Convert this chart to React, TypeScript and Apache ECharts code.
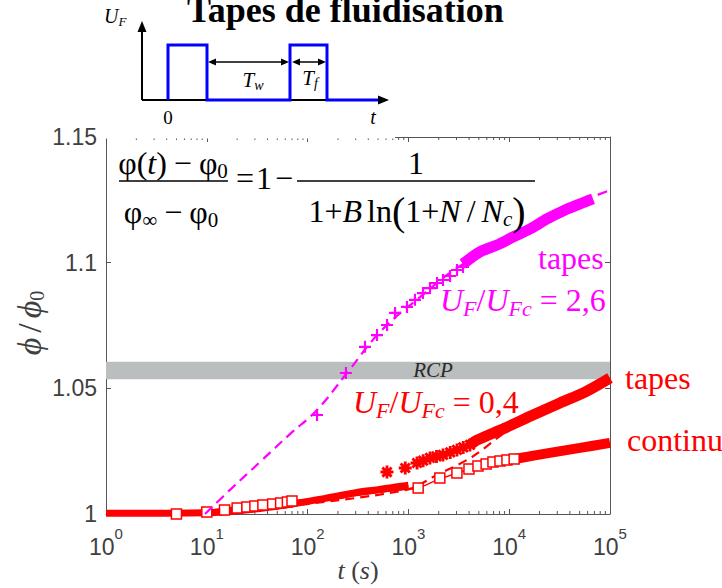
import React, { useEffect, useRef } from 'react';
import * as echarts from 'echarts';

const SERIF = "'Liberation Serif', 'Times New Roman', serif";
const SANS = "'Liberation Sans', Arial, Helvetica, sans-serif";
const MAGENTA = '#ff00ff';
const RED = '#ff0000';
const AXIS = '#555555';
const LABEL = '#404040';

// ---- axes / ticks ----
const xMin = 1;
const xMax = 100000;
const yMin = 1;
const yMax = 1.15;
const yInterval = 0.05;
const minorTickValues: number[] = [];
for (let k = 0; k < 5; k++) for (let m = 2; m <= 9; m++) minorTickValues.push(m * Math.pow(10, k));
const rcpBand = [1.0536, 1.0606];

// ---- U_F/U_Fc = 2,6 (tapes, magenta) ----
const magFitT = [9.6, 17, 33.7, 66.9, 124, 246, 523, 1303, 3250, 10900, 34200, 100000];
const magFitV = [1.0, 1.0096, 1.0207, 1.0318, 1.0414, 1.0561, 1.0724, 1.0863, 1.0987, 1.1102, 1.121, 1.1289];
const magMarkT = [124, 240, 371, 488, 614, 737, 968, 1162, 1396, 1638, 1922, 2204, 2588, 3035, 3483];
const magMarkV = [1.0394, 1.0561, 1.0665, 1.0712, 1.0752, 1.08, 1.0824, 1.0852, 1.0879, 1.0899, 1.0919, 1.0931, 1.0947, 1.0971, 1.0983];
const magBandT = [3483, 5130, 7570, 10900, 16080, 23700, 34200, 50400, 67800];
const magBandV = [1.0995, 1.1043, 1.107, 1.1102, 1.1134, 1.1174, 1.1206, 1.1234, 1.1254];

// ---- U_F/U_Fc = 0,4 continu (red squares) ----
const contFitT = [1, 10, 30, 100, 300, 1000, 1250, 2050, 5000, 10000, 100000];
const contFitV = [1.0, 1.0008, 1.0032, 1.0052, 1.0078, 1.0098, 1.0103, 1.014, 1.0188, 1.0215, 1.0283];
const contEarlyT = [1, 3, 5, 10, 20, 40, 70, 100, 150, 200, 300, 500, 700, 1000];
const contEarlyV = [1.0003, 1.0003, 1.0004, 1.0008, 1.0022, 1.0036, 1.0046, 1.0052, 1.0062, 1.0068, 1.008, 1.0092, 1.01, 1.0108];
const contSqT = [5, 10, 15, 20, 25, 30, 36, 45, 54, 63, 70, 1250, 2050, 3030, 3990, 4900, 5900, 6900, 8100, 9500, 11200];
const contSqV = [1.0, 1.0008, 1.0016, 1.0024, 1.0028, 1.0032, 1.0036, 1.004, 1.0044, 1.0048, 1.0052, 1.0103, 1.0143, 1.0163, 1.0179, 1.0191, 1.0199, 1.0207, 1.0211, 1.0215, 1.0219];
const contBandT = [11200, 12900, 25300, 50400, 100000];
const contBandV = [1.0219, 1.0223, 1.0243, 1.0263, 1.0283];

// ---- U_F/U_Fc = 0,4 tapes (red asterisks) ----
const tapFitT = [1, 10, 100, 1000, 1754, 4276, 10000, 30000, 100000];
const tapFitV = [1.0, 1.0004, 1.004, 1.0098, 1.0147, 1.0227, 1.0335, 1.043, 1.0535];
const tapEarlyT = [1, 10, 30, 70, 100, 150, 200, 300, 500, 700, 1000];
const tapEarlyV = [1.0003, 1.0005, 1.002, 1.004, 1.005, 1.0062, 1.0072, 1.0085, 1.0097, 1.0106, 1.0114];
const tapStarT = [613, 930, 1218, 1400, 1638, 1900, 2204, 2600, 3035, 3500, 4083];
const tapStarV = [1.0167, 1.0183, 1.0203, 1.0212, 1.0223, 1.0229, 1.0235, 1.0245, 1.0255, 1.0265, 1.0275];
const tapBandT = [4083, 4795, 9080, 17200, 31900, 56500, 100000];
const tapBandV = [1.0275, 1.0294, 1.0342, 1.0394, 1.0442, 1.0485, 1.0541];

const zip = (t: number[], v: number[]) => t.map((x, i) => [x, v[i]]);

// ---- text layout helpers ----
let mctx: CanvasRenderingContext2D | null = null;
type Seg = { t: string; s?: number; it?: boolean; b?: boolean; dy?: number; gap?: number; f?: string };
function segW(sg: Seg, size: number) {
  if (!mctx) mctx = document.createElement('canvas').getContext('2d');
  const s = sg.s || size;
  mctx!.font = `${sg.it ? 'italic ' : ''}${sg.b ? 'bold ' : ''}${s}px ${sg.f || SERIF}`;
  return mctx!.measureText(sg.t).width;
}
function segs(list: Seg[], x: number, y: number, size: number, color: string, align: 'left' | 'center' | 'right' = 'left') {
  const ws = list.map((sg) => segW(sg, size));
  const total = ws.reduce((a, w, i) => a + w + (i < list.length - 1 ? list[i].gap || 0 : 0), 0);
  let cx = align === 'left' ? x : align === 'center' ? x - total / 2 : x - total;
  return list.map((sg, i) => {
    const el = {
      type: 'text',
      x: cx,
      y: y + (sg.dy || 0),
      z: 100,
      silent: true,
      style: {
        text: sg.t,
        fontSize: sg.s || size,
        fontFamily: sg.f || SERIF,
        fontStyle: sg.it ? 'italic' : 'normal',
        fontWeight: sg.b ? 'bold' : 'normal',
        fill: color,
        align: 'left',
        verticalAlign: 'middle',
      },
    };
    cx += ws[i] + (sg.gap || 0);
    return el;
  });
}
const line = (x1: number, y1: number, x2: number, y2: number, stroke: string, w: number) => ({
  type: 'line', z: 101, silent: true, shape: { x1, y1, x2, y2 }, style: { stroke, lineWidth: w },
});
const tri = (pts: number[][], fill = '#000') => ({ type: 'polygon', z: 101, silent: true, shape: { points: pts }, style: { fill } });

function asteriskPath() {
  const c = 5, L = 5, W = 1.1;
  let d = '';
  for (const ang of [0, 45, 90, 135]) {
    const a = (ang * Math.PI) / 180, ca = Math.cos(a), sa = Math.sin(a);
    const pts = [[-L, -W], [L, -W], [L, W], [-L, W]].map(([u, w]) => [c + u * ca - w * sa, c + u * sa + w * ca]);
    d += 'M' + pts.map((p) => p[0].toFixed(2) + ',' + p[1].toFixed(2)).join('L') + 'Z';
  }
  return 'path://' + d;
}
const PLUS = 'path://M4.1,0H5.9V4.1H10V5.9H5.9V10H4.1V5.9H0V4.1H4.1Z';

function buildGraphics() {
  const g: any[] = [];
  // inset schematic (white background)
  g.push({ type: 'rect', z: 99, silent: true, shape: { x: 99, y: 0, width: 296, height: 138.5 }, style: { fill: '#fff' } });
  g.push(...segs([{ t: 'Tapes de fluidisation', b: true }], 187, 10, 36, '#000'));
  // axes of schematic
  g.push(line(142, 100, 142, 30, '#000', 2));
  g.push(tri([[142, 21], [137.5, 32], [146.5, 32]]));
  g.push(line(142, 100, 380, 100, '#000', 2));
  g.push(tri([[389, 100], [378, 95.5], [378, 104.5]]));
  g.push({
    type: 'polyline', z: 102, silent: true,
    shape: { points: [[168, 100], [168, 45], [207, 45], [207, 100], [290, 100], [290, 45], [327, 45], [327, 100], [378, 100]] },
    style: { stroke: '#0000ff', lineWidth: 3, fill: null },
  });
  // T_w and T_f double arrows
  g.push(line(212, 62, 285, 62, '#000', 1.5));
  g.push(tri([[208, 62], [216, 58.5], [216, 65.5]]));
  g.push(tri([[289, 62], [281, 58.5], [281, 65.5]]));
  g.push(line(296, 62, 322, 62, '#000', 1.5));
  g.push(tri([[292, 62], [300, 58.5], [300, 65.5]]));
  g.push(tri([[326, 62], [318, 58.5], [318, 65.5]]));
  g.push(...segs([{ t: 'U', it: true }, { t: 'F', it: true, s: 13, dy: 5 }], 104, 16, 20, '#000'));
  g.push(...segs([{ t: 'T', it: true }, { t: 'w', it: true, s: 14, dy: 5 }], 253, 80, 21, '#000', 'center'));
  g.push(...segs([{ t: 'T', it: true }, { t: 'f', it: true, s: 14, dy: 5 }], 310, 78, 21, '#000', 'center'));
  g.push(...segs([{ t: '0' }], 168, 117, 19, '#000', 'center'));
  g.push(...segs([{ t: 't', it: true }], 373, 117, 20, '#000', 'center'));

  // formula
  const F = 32, S = 21;
  g.push(...segs([{ t: 'φ' }, { t: '(' }, { t: 't', it: true }, { t: ')', gap: 7 }, { t: '−', gap: 7 }, { t: 'φ' }, { t: '0', s: S, dy: 8 }], 173, 163, F, '#000', 'center'));
  g.push(line(119, 181, 228, 181, '#000', 1.6));
  g.push(...segs([{ t: 'φ' }, { t: '∞', s: S, dy: 8, gap: 7 }, { t: '−', gap: 7 }, { t: 'φ' }, { t: '0', s: S, dy: 8 }], 171, 212, F, '#000', 'center'));
  g.push(...segs([{ t: '=', gap: 2 }, { t: '1', gap: 3 }, { t: '−' }], 236, 178, F, '#000'));
  g.push(...segs([{ t: '1' }], 416, 163, F, '#000', 'center'));
  g.push(line(297, 181, 535, 181, '#000', 1.6));
  g.push(...segs([
    { t: '1' }, { t: '+' }, { t: 'B', it: true, gap: 5 }, { t: 'ln' }, { t: '(', s: 40 }, { t: '1' }, { t: '+' },
    { t: 'N', it: true, gap: 6 }, { t: '/', gap: 6 }, { t: 'N', it: true }, { t: 'c', it: true, s: S, dy: 8 }, { t: ')', s: 40 },
  ], 417, 211, F, '#000', 'center'));

  // annotations
  g.push(...segs([{ t: 'tapes' }], 538, 258, 32, MAGENTA));
  g.push(...segs([
    { t: 'U', it: true }, { t: 'F', it: true, s: 22, dy: 8 }, { t: '/' }, { t: 'U', it: true },
    { t: 'Fc', it: true, s: 22, dy: 8, gap: 8 }, { t: '=', gap: 8 }, { t: '2,6' },
  ], 440, 300, 32, MAGENTA));
  g.push(...segs([{ t: 'RCP', it: true }], 433, 370, 21, '#2a2a2a', 'center'));
  g.push(...segs([
    { t: 'U', it: true }, { t: 'F', it: true, s: 22, dy: 8 }, { t: '/' }, { t: 'U', it: true },
    { t: 'Fc', it: true, s: 22, dy: 8, gap: 8 }, { t: '=', gap: 8 }, { t: '0,4' },
  ], 353, 402, 32, RED));
  g.push(...segs([{ t: 'tapes' }], 625, 378, 32, RED));
  g.push(...segs([{ t: 'continu' }], 627, 440, 32, RED));

  // y-axis title (rotated)
  g.push({
    type: 'group', x: 29, y: 323, rotation: Math.PI / 2,
    children: segs([{ t: 'ϕ', it: true, gap: 5 }, { t: '/', gap: 5 }, { t: 'ϕ', it: true }, { t: '0', s: 20, dy: 8 }], 0, 0, 34, LABEL, 'center'),
  });
  return g;
}

export default function App() {
  const ref = useRef<HTMLDivElement>(null);
  useEffect(() => {
    if (!ref.current) return;
    const chart = echarts.init(ref.current, undefined, { renderer: 'svg' });
    const star = asteriskPath();
    const xCommon = {
      type: 'log', logBase: 10, min: xMin, max: xMax,
      axisLine: { show: true, onZero: false, lineStyle: { color: AXIS, width: 1 } },
      axisTick: { show: true, inside: true, length: 5, lineStyle: { color: AXIS } },
      splitLine: { show: false },
      minorTick: { show: false },
    };
    const yCommon = {
      type: 'value', min: yMin, max: yMax, interval: yInterval,
      axisLine: { show: true, onZero: false, lineStyle: { color: AXIS, width: 1 } },
      axisTick: { show: true, inside: true, length: 5, lineStyle: { color: AXIS } },
      splitLine: { show: false },
    };
    const option: any = {
      animation: false,
      backgroundColor: '#fff',
      grid: { left: 106, right: 112, top: 137, bottom: 74, containLabel: false, outerBoundsMode: 'none' },
      xAxis: [
        {
          ...xCommon, position: 'bottom',
          name: '{i|t} ({i|s})', nameLocation: 'middle', nameGap: 42, nameMoveOverlap: false,
          nameTextStyle: { fontFamily: SERIF, fontSize: 26, lineHeight: 28, color: LABEL, rich: { i: { fontFamily: SERIF, fontStyle: 'italic', fontSize: 26, lineHeight: 28, color: LABEL } } },
          axisLabel: {
            margin: 12,
            formatter: (v: number) => `{b|10}{s|${Math.round(Math.log10(v))}}`,
            rich: {
              b: { fontFamily: SANS, fontSize: 23, color: LABEL, lineHeight: 32, verticalAlign: 'bottom' },
              s: { fontFamily: SANS, fontSize: 15, color: LABEL, lineHeight: 32, verticalAlign: 'top' },
            },
          },
        },
        { ...xCommon, position: 'top', axisLabel: { show: false } },
      ],
      yAxis: [
        {
          ...yCommon, position: 'left',
          axisLabel: { margin: 9, fontFamily: SANS, fontSize: 23, color: LABEL, formatter: (v: number) => String(parseFloat(v.toFixed(2))) },
        },
        { ...yCommon, position: 'right', axisLabel: { show: false } },
      ],
      graphic: { elements: buildGraphics() },
      series: [
        {
          name: 'RCP', type: 'line', data: [], z: 1, silent: true,
          markArea: { silent: true, itemStyle: { color: '#babebe' }, data: [[{ yAxis: rcpBand[0] }, { yAxis: rcpBand[1] }]] },
        },
        {
          name: 'minor ticks', type: 'custom', silent: true, clip: false, z: 3,
          data: minorTickValues.map((t) => [t, yMin]),
          encode: { x: 0, y: 1 },
          renderItem: (_p: any, api: any) => {
            const t = api.value(0);
            const pb = api.coord([t, yMin]);
            const pt = api.coord([t, yMax]);
            return {
              type: 'group',
              children: [
                { type: 'line', shape: { x1: pb[0], y1: pb[1], x2: pb[0], y2: pb[1] - 3 }, style: { stroke: AXIS, lineWidth: 1 } },
                { type: 'line', shape: { x1: pt[0], y1: pt[1], x2: pt[0], y2: pt[1] + 3 }, style: { stroke: AXIS, lineWidth: 1 } },
              ],
            };
          },
        },
        { name: 'continu early', type: 'line', data: zip(contEarlyT, contEarlyV), showSymbol: false, smooth: 0.3, lineStyle: { color: RED, width: 5 }, z: 4 },
        { name: 'tapes early', type: 'line', data: zip(tapEarlyT, tapEarlyV), showSymbol: false, smooth: 0.3, lineStyle: { color: RED, width: 7 }, z: 4 },
        { name: 'fit continu', type: 'line', data: zip(contFitT, contFitV), showSymbol: false, smooth: 0.3, lineStyle: { color: RED, width: 1.3 }, z: 5 },
        { name: 'fit tapes 0,4', type: 'line', data: zip(tapFitT, tapFitV), showSymbol: false, smooth: 0.3, lineStyle: { color: RED, width: 2.2, type: [9, 6] }, z: 5 },
        { name: 'continu band', type: 'line', data: zip(contBandT, contBandV), showSymbol: false, smooth: 0.3, lineStyle: { color: RED, width: 10 }, z: 6 },
        {
          name: 'continu', type: 'scatter', data: zip(contSqT, contSqV), symbol: 'rect', symbolSize: 10, z: 7,
          itemStyle: { color: '#fff', borderColor: RED, borderWidth: 1.5, opacity: 1 },
        },
        { name: 'tapes 0,4', type: 'scatter', data: zip(tapStarT, tapStarV), symbol: star, symbolSize: 13, itemStyle: { color: RED, opacity: 1 }, z: 7 },
        { name: 'tapes band', type: 'line', data: zip(tapBandT, tapBandV), showSymbol: false, smooth: 0.3, lineStyle: { color: RED, width: 11 }, z: 7 },
        { name: 'fit tapes 2,6', type: 'line', data: zip(magFitT, magFitV), showSymbol: false, smooth: 0.4, lineStyle: { color: MAGENTA, width: 2.2, type: [10, 6] }, z: 8 },
        { name: 'tapes 2,6', type: 'scatter', data: zip(magMarkT, magMarkV), symbol: PLUS, symbolSize: 12, itemStyle: { color: MAGENTA, opacity: 1 }, z: 9 },
        { name: 'tapes 2,6 band', type: 'line', data: zip(magBandT, magBandV), showSymbol: false, smooth: 0.3, lineStyle: { color: MAGENTA, width: 11 }, z: 9 },
      ],
    };
    chart.setOption(option);
    return () => chart.dispose();
  }, []);
  return <div ref={ref} style={{ width: 722, height: 588, position: 'absolute', left: 0, top: 0 }} />;
}
